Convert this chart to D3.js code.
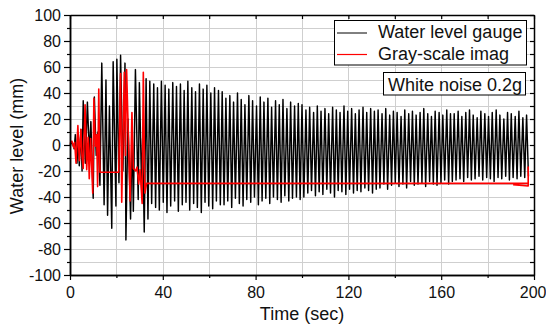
<!DOCTYPE html>
<html><head><meta charset="utf-8">
<script src="https://cdn.jsdelivr.net/npm/d3@7"></script>
<style>
html,body{margin:0;padding:0;background:#fff;}
svg{display:block;font-family:"Liberation Sans",Arial,sans-serif;}
</style></head><body>
<svg id="chart" width="546" height="327"></svg>
<script>
const xTicks=[0,40,80,120,160,200];
const xMinorTicks=[20,60,100,140,180];
const yTicks=[-100,-80,-60,-40,-20,0,20,40,60,80,100];
const yMinorTicks=[-90,-70,-50,-30,-10,10,30,50,70,90];
const seriesNames=["Water level gauge","Gray-scale imag"];
const noteText="White noise 0.2g";
const xTitle="Time (sec)";
const yTitle="Water level (mm)";

// Water level gauge: extrema (time s, level mm)
const gaugeTime=[
0.0,1.0,1.8,2.3,3.0,3.6,4.0,4.7,5.2,5.7,6.6,7.5,8.3,9.0,10.0,10.5,11.3,12.0,12.9,13.7,
14.7,15.5,16.2,17.0,18.0,18.6,19.8,20.2,21.1,21.8,22.8,23.7,24.1,25.0,26.1,26.8,27.3,28.2,29.4,29.9,
30.9,31.3,32.0,
32.8,33.6,34.4,35.2,36.1,36.9,37.7,38.5,39.4,40.2,41.0,41.8,42.6,43.4,44.3,45.1,45.9,46.7,47.6,48.4,
49.2,50.0,50.8,51.6,52.5,53.3,54.1,54.9,55.8,56.6,57.4,58.2,59.0,59.8,60.7,61.5,62.3,63.1,64.0,64.8,
65.6,66.4,67.2,68.0,68.9,69.7,70.5,71.3,72.2,73.0,73.8,74.6,75.4,76.2,77.1,77.9,78.7,79.5,80.4,81.2,
82.0,82.8,83.6,84.4,85.3,86.1,86.9,87.7,88.6,89.4,90.2,91.0,91.8,92.6,93.5,94.3,95.1,95.9,96.8,97.6,98.4,99.2,
100.0,100.8,101.7,102.5,103.3,104.1,105.0,105.8,106.6,107.4,108.2,109.0,109.9,110.7,111.5,112.3,113.2,114.0,114.8,115.6,
116.4,117.2,118.1,118.9,119.7,120.5,121.4,122.2,123.0,123.8,124.6,125.4,126.3,127.1,127.9,128.7,129.6,130.4,131.2,132.0,
132.8,133.6,134.5,135.3,136.1,136.9,137.8,138.6,139.4,140.2,141.0,141.8,142.7,143.5,144.3,145.1,146.0,146.8,147.6,148.4,
149.2,150.0,150.9,151.7,152.5,153.3,154.2,155.0,155.8,156.6,157.4,158.2,159.1,159.9,160.7,161.5,162.4,163.2,164.0,164.8,
165.6,166.4,167.3,168.1,168.9,169.7,170.6,171.4,172.2,173.0,173.8,174.6,175.5,176.3,177.1,177.9,178.8,179.6,180.4,181.2,
182.0,182.8,183.7,184.5,185.3,186.1,187.0,187.8,188.6,189.4,190.2,191.0,191.9,192.7,193.5,194.3,195.2,196.0,196.8,197.6
];
const gaugeLevel=[
0,2,-3,8,-14,6,-16,12,-20,34,-14,33,-6,18,-41,37,-8,10,-31,63,
-46,50,-54,30,-64,64,-47,66,-29,69,-20,63,-73,20,-57,10,-51,58,-42,48,
-35,5,-67,
51,-57,49,-45,47,-48,44,-50,49,-44,46,-52,43,-47,48,-43,45,-51,47,-46,
42,-44,49,-50,44,-45,41,-48,47,-52,43,-44,46,-47,40,-49,44,-43,42,-46,
41,-46,36,-43,38,-48,33,-41,40,-45,35,-47,31,-42,38,-44,34,-40,30,-46,
37,-43,33,-41,36,-45,29,-40,34,-42,31,-44,35,-39,28,-43,33,-41,30,-40,32,-42,
31,-40,27,-37,29,-35,25,-39,30,-36,26,-38,28,-34,24,-37,29,-40,27,-35,
25,-36,30,-38,26,-34,28,-37,24,-35,27,-36,29,-33,25,-35,28,-37,26,-34,
27,-33,24,-30,28,-34,23,-31,26,-29,25,-32,22,-30,27,-33,24,-28,26,-31,
23,-30,25,-29,28,-32,24,-28,22,-30,26,-31,25,-29,23,-27,27,-30,24,-28,
24,-27,26,-26,22,-28,25,-25,27,-27,23,-26,21,-24,26,-27,24,-25,22,-26,
25,-28,27,-25,23,-26,20,-24,25,-27,24,-25,22,-26,26,-24,21,-25,23,-24
];

// Gray-scale image series (time s, level mm)
const imageTime=[
0.0,0.8,1.6,2.0,2.6,3.4,4.0,4.7,5.2,5.7,6.5,7.2,7.8,8.3,8.9,9.8,10.3,10.9,11.5,11.9,
12.4,12.9,21.0,21.8,22.3,23.4,23.9,24.4,25.9,26.7,27.3,28.3,28.9,29.6,30.2,31.1,31.6,32.3,33.0,
197.5,197.5,197.5,191.0
];
const imageLevel=[
1,3,-2,2,-14,15,-12,12,-9,-18,31,-19,6,-26,5,-37,36,-1,8,-32,
43,-21,-21,55,-44,56,-8,58,-43,25,-18,-20,-17,-30,-19,-45,56,-37,-29.5,
-29.5,-17,-31.5,-30.5
];

const m={l:70,r:534,t:15,b:275};
const svg=d3.select("#chart");
const x=d3.scaleLinear().domain([0,200]).range([m.l,m.r]);
const y=d3.scaleLinear().domain([-100,100]).range([m.b,m.t]);

// grid
const grid=svg.append("g").attr("stroke","#cfcfcf").attr("stroke-width",1);
grid.selectAll("line.v").data(xTicks.concat(xMinorTicks).filter(d=>d>0&&d<200)).enter()
  .append("line").attr("x1",d=>Math.round(x(d))+0.5).attr("x2",d=>Math.round(x(d))+0.5)
  .attr("y1",m.t).attr("y2",m.b);
grid.selectAll("line.h").data(yTicks.concat(yMinorTicks).filter(d=>d>-100&&d<100)).enter()
  .append("line").attr("y1",d=>Math.round(y(d))+0.5).attr("y2",d=>Math.round(y(d))+0.5)
  .attr("x1",m.l).attr("x2",m.r);

// series
const gaugeData=gaugeTime.map((t,i)=>[t,gaugeLevel[i]]);
const imageData=imageTime.map((t,i)=>[t,imageLevel[i]]);
const line=d3.line().x(d=>x(d[0])).y(d=>y(d[1]));
svg.append("path").datum(gaugeData).attr("d",line).attr("fill","none")
  .attr("stroke","#000").attr("stroke-width",1.45).attr("stroke-linejoin","round");
svg.append("path").datum(imageData).attr("d",line).attr("fill","none")
  .attr("stroke","#ff0000").attr("stroke-width",1.6).attr("stroke-linejoin","round");

// axes
const fmt=d=>String(d);
function styleAxis(g){
  g.attr("font-family","Liberation Sans, Arial, sans-serif").attr("font-size",16);
  g.selectAll("path.domain").attr("stroke","#000").attr("stroke-width",1.5);
  g.selectAll(".tick line").attr("stroke","#000").attr("stroke-width",1.2);
  g.selectAll(".tick text").attr("fill","#111");
}
const bx=svg.append("g").attr("transform",`translate(0,${m.b})`)
  .call(d3.axisBottom(x).tickValues(xTicks).tickFormat(fmt).tickSizeInner(5).tickSizeOuter(0).tickPadding(7))
  .call(styleAxis);
bx.selectAll(".tick text").filter(d=>d===200).attr("text-anchor","end").attr("x",12);
svg.append("g").attr("transform",`translate(0,${m.b})`)
  .call(d3.axisBottom(x).tickValues(xMinorTicks).tickFormat("").tickSizeInner(3).tickSizeOuter(0))
  .call(styleAxis);
svg.append("g").attr("transform",`translate(${m.l},0)`)
  .call(d3.axisLeft(y).tickValues(yTicks).tickFormat(fmt).tickSizeInner(6).tickSizeOuter(0).tickPadding(3))
  .call(styleAxis);
svg.append("g").attr("transform",`translate(${m.l},0)`)
  .call(d3.axisLeft(y).tickValues(yMinorTicks).tickFormat("").tickSizeInner(3).tickSizeOuter(0))
  .call(styleAxis);
svg.append("g").attr("transform",`translate(0,${m.t})`)
  .call(d3.axisTop(x).tickValues(xTicks.concat(xMinorTicks)).tickFormat("").tickSizeInner(-4).tickSizeOuter(0))
  .call(styleAxis);
svg.append("g").attr("transform",`translate(${m.r},0)`)
  .call(d3.axisRight(y).tickValues(yTicks.concat(yMinorTicks)).tickFormat("").tickSizeInner(-4).tickSizeOuter(0))
  .call(styleAxis);

// titles
svg.append("text").attr("x",(m.l+m.r)/2).attr("y",320).attr("text-anchor","middle")
  .attr("font-size",18).attr("fill","#111").text(xTitle);
svg.append("text").attr("transform","translate(23,146) rotate(-90)").attr("text-anchor","middle")
  .attr("font-size",18).attr("fill","#111").text(yTitle);

// legend
const lg=svg.append("g");
lg.append("rect").attr("x",334.5).attr("y",20.5).attr("width",192).attr("height",44.5)
  .attr("fill","#fff").attr("stroke","#000").attr("stroke-width",1);
const colors=["#000","#ff0000"];
seriesNames.forEach((s,i)=>{
  const yy=[33,54.5][i];
  lg.append("line").attr("x1",337).attr("x2",367).attr("y1",yy).attr("y2",yy)
    .attr("stroke",colors[i]).attr("stroke-width",i?1.2:1);
  lg.append("text").attr("x",378).attr("y",[37.5,59.5][i]).attr("font-size",18).attr("fill","#111").text(s);
});
svg.append("rect").attr("x",383.5).attr("y",72.5).attr("width",142).attr("height",22.5)
  .attr("fill","#fff").attr("stroke","#000").attr("stroke-width",1);
svg.append("text").attr("x",388).attr("y",90.5).attr("font-size",18).attr("fill","#111").text(noteText);
</script>
</body></html>
